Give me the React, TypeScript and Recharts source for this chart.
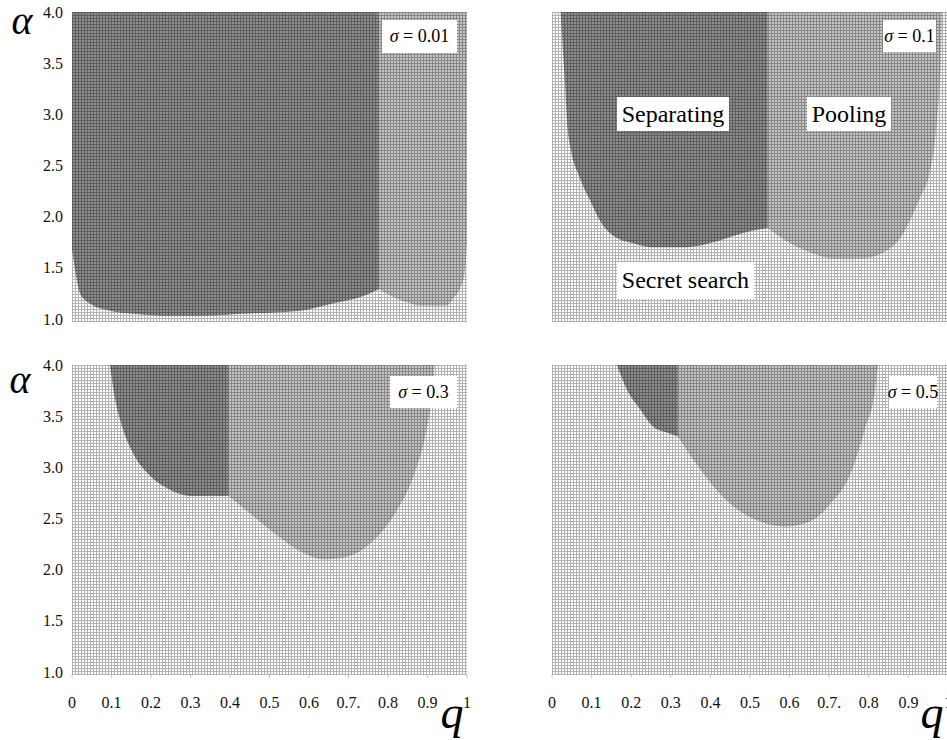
import React from 'react'
import { ComposedChart, Area, XAxis, YAxis, CartesianGrid } from 'recharts'

const ALPHA_TOP = 4
const Q_TICKS = [0, 0.1, 0.2, 0.3, 0.4, 0.5, 0.6, 0.7, 0.8, 0.9, 1]
const Q_LABELS = ['0', '0.1', '0.2', '0.3', '0.4', '0.5', '0.6', '0.7.', '0.8', '0.9', '1']
const ALPHA_TICKS = [1, 1.5, 2, 2.5, 3, 3.5, 4]

// sigma = 0.01 : lower edge of each region (upper edge is alpha = 4)
const sep001Q = [0, 0.005, 0.013, 0.02, 0.045, 0.096, 0.154, 0.25, 0.33, 0.433, 0.577, 0.66, 0.696, 0.734, 0.76, 0.777]
const sep001A = [1.68, 1.55, 1.37, 1.25, 1.15, 1.08, 1.05, 1.03, 1.03, 1.05, 1.08, 1.15, 1.18, 1.22, 1.26, 1.29]
const pool001Q = [0.777, 0.81, 0.85, 0.88, 0.949, 0.965, 0.98, 0.994, 1]
const pool001A = [1.29, 1.22, 1.16, 1.13, 1.13, 1.2, 1.28, 1.45, 1.75]

// sigma = 0.1
const sep01Q = [0.022, 0.028, 0.033, 0.038, 0.048, 0.068, 0.096, 0.121, 0.164, 0.205, 0.255, 0.331, 0.417, 0.482, 0.545]
const sep01A = [4.0, 3.6, 3.3, 2.94, 2.65, 2.4, 2.16, 1.96, 1.79, 1.74, 1.7, 1.7, 1.76, 1.84, 1.89]
const pool01Q = [0.545, 0.593, 0.659, 0.71, 0.778, 0.846, 0.886, 0.912, 0.929, 0.955, 0.972, 0.982, 0.985]
const pool01A = [1.89, 1.76, 1.64, 1.59, 1.59, 1.67, 1.83, 2.03, 2.18, 2.45, 2.94, 3.53, 4.0]

// sigma = 0.3
const sep03Q = [0.096, 0.109, 0.127, 0.16, 0.197, 0.248, 0.3, 0.397]
const sep03A = [4.0, 3.67, 3.4, 3.1, 2.92, 2.78, 2.72, 2.72]
const pool03Q = [0.397, 0.45, 0.514, 0.577, 0.64, 0.69, 0.754, 0.818, 0.868, 0.894, 0.911, 0.918]
const pool03A = [2.72, 2.55, 2.35, 2.18, 2.1, 2.12, 2.25, 2.55, 2.95, 3.3, 3.7, 4.0]

// sigma = 0.5
const sep05Q = [0.164, 0.189, 0.222, 0.255, 0.29, 0.318]
const sep05A = [4.0, 3.76, 3.57, 3.4, 3.34, 3.3]
const pool05Q = [0.318, 0.374, 0.424, 0.475, 0.525, 0.588, 0.652, 0.702, 0.753, 0.79, 0.816, 0.823]
const pool05A = [3.3, 2.98, 2.74, 2.57, 2.47, 2.42, 2.47, 2.64, 2.93, 3.37, 3.76, 4.0]

type Row = { q: number; sep?: number[]; pool?: number[] }

function buildRows(sq: number[], sa: number[], pq: number[], pa: number[]): Row[] {
  const map = new Map<number, Row>()
  sq.forEach((q, i) => {
    const r = map.get(q) || { q }
    r.sep = [sa[i], ALPHA_TOP]
    map.set(q, r)
  })
  pq.forEach((q, i) => {
    const r = map.get(q) || { q }
    r.pool = [pa[i], ALPHA_TOP]
    map.set(q, r)
  })
  return Array.from(map.values()).sort((a, b) => a.q - b.q)
}

const FONT = 'Liberation Serif, DejaVu Serif, serif'
const serif = { fontFamily: FONT }

function Patterns({ id }: { id: string }) {
  const cell = (name: string, bg: string, line: string) => (
    <pattern id={`${name}-${id}`} width={3} height={3} patternUnits="userSpaceOnUse">
      <rect width={3} height={3} fill={bg} />
      <rect width={3} height={1} fill={line} />
      <rect width={1} height={3} fill={line} />
    </pattern>
  )
  return (
    <defs>
      {cell('light', '#ffffff', '#b2b2b2')}
      {cell('mid', '#c6c6c6', '#878787')}
      {cell('dark', '#8e8e8e', '#5e5e5e')}
    </defs>
  )
}

function Panel({ id, rows, left, showY, showX }: { id: string; rows: Row[]; left: boolean; showY: boolean; showX: boolean }) {
  const height = showX ? 382 : 340
  return (
    <ComposedChart
      width={480}
      height={height}
      data={rows}
      margin={{ top: 12, right: left ? 13 : 12, left: showY ? 0 : 72, bottom: 0 }}
    >
      <Patterns id={id} />
      <CartesianGrid horizontal={false} vertical={false} stroke="none" fill={`url(#light-${id})`} fillOpacity={1} />
      <XAxis
        type="number"
        dataKey="q"
        domain={[0, 1]}
        ticks={Q_TICKS}
        allowDataOverflow
        axisLine={false}
        tickLine={{ stroke: '#c8c8c8' }}
        tickSize={3}
        tickMargin={19}
        height={showX ? 60 : 18}
        tick={showX ? { fontSize: 16, fill: '#111', fontFamily: FONT, style: serif } : false}
        tickFormatter={(v: number) => Q_LABELS[Math.round(v * 10)]}
        interval={0}
      />
      <YAxis
        type="number"
        domain={[0.97, 4]}
        ticks={ALPHA_TICKS}
        allowDataOverflow
        hide={!showY}
        width={72}
        axisLine={false}
        tickLine={false}
        tickSize={0}
        tickMargin={9}
        tick={{ fontSize: 16, fill: '#111', fontFamily: FONT, style: serif }}
        tickFormatter={(v: number) => v.toFixed(1)}
        interval={0}
      />
      <Area
        type="monotoneX"
        dataKey={(d: Row) => d.sep}
        stroke="none"
        fill={`url(#dark-${id})`}
        fillOpacity={1}
        dot={false}
        activeDot={false}
        isAnimationActive={false}
      />
      <Area
        type="monotoneX"
        dataKey={(d: Row) => d.pool}
        stroke="none"
        fill={`url(#mid-${id})`}
        fillOpacity={1}
        dot={false}
        activeDot={false}
        isAnimationActive={false}
      />
    </ComposedChart>
  )
}

function Box({ x, y, w, h, size, children }: { x: number; y: number; w: number; h: number; size: number; children: React.ReactNode }) {
  return (
    <g>
      <rect x={x} y={y} width={w} height={h} fill="#fff" />
      <text x={x + w / 2} y={y + h / 2 + size * 0.33} textAnchor="middle" fontSize={size} style={serif} fill="#000">
        {children}
      </text>
    </g>
  )
}

const Sigma = ({ v }: { v: string }) => (
  <>
    <tspan fontStyle="italic">σ</tspan>
    {` = ${v}`}
  </>
)

const bigItalic = { fontFamily: FONT, fontStyle: 'italic' as const }

export default function App() {
  const r001 = buildRows(sep001Q, sep001A, pool001Q, pool001A)
  const r01 = buildRows(sep01Q, sep01A, pool01Q, pool01A)
  const r03 = buildRows(sep03Q, sep03A, pool03Q, pool03A)
  const r05 = buildRows(sep05Q, sep05A, pool05Q, pool05A)

  return (
    <div style={{ position: 'absolute', left: 0, top: 0, width: 947, height: 740, overflow: 'hidden', background: '#fff' }}>
      <div style={{ position: 'absolute', left: 0, top: 0 }}>
        <Panel id="a" rows={r001} left showY showX={false} />
      </div>
      <div style={{ position: 'absolute', left: 480, top: 0 }}>
        <Panel id="b" rows={r01} left={false} showY={false} showX={false} />
      </div>
      <div style={{ position: 'absolute', left: 0, top: 353 }}>
        <Panel id="c" rows={r03} left showY showX />
      </div>
      <div style={{ position: 'absolute', left: 480, top: 353 }}>
        <Panel id="d" rows={r05} left={false} showY={false} showX />
      </div>

      <svg width={947} height={740} style={{ position: 'absolute', left: 0, top: 0, pointerEvents: 'none' }}>
        <text x={22} y={34} textAnchor="middle" fontSize={40} style={bigItalic} fill="#000">α</text>
        <text x={20} y={393} textAnchor="middle" fontSize={40} style={bigItalic} fill="#000">α</text>
        <text x={452} y={728} textAnchor="middle" fontSize={46} style={bigItalic} fill="#000">q</text>
        <text x={932} y={728} textAnchor="middle" fontSize={46} style={bigItalic} fill="#000">q</text>

        <Box x={382} y={20} w={75} h={33} size={18}><Sigma v="0.01" /></Box>
        <Box x={883} y={20} w={53} h={32} size={18}><Sigma v="0.1" /></Box>
        <Box x={390} y={376} w={67} h={32} size={18}><Sigma v="0.3" /></Box>
        <Box x={889} y={376} w={48} h={32} size={18}><Sigma v="0.5" /></Box>

        <Box x={617} y={97} w={112} h={34} size={24}>Separating</Box>
        <Box x={807} y={97} w={84} h={34} size={24}>Pooling</Box>
        <Box x={617} y={262} w={137} h={37} size={24}>Secret search</Box>
      </svg>
    </div>
  )
}
